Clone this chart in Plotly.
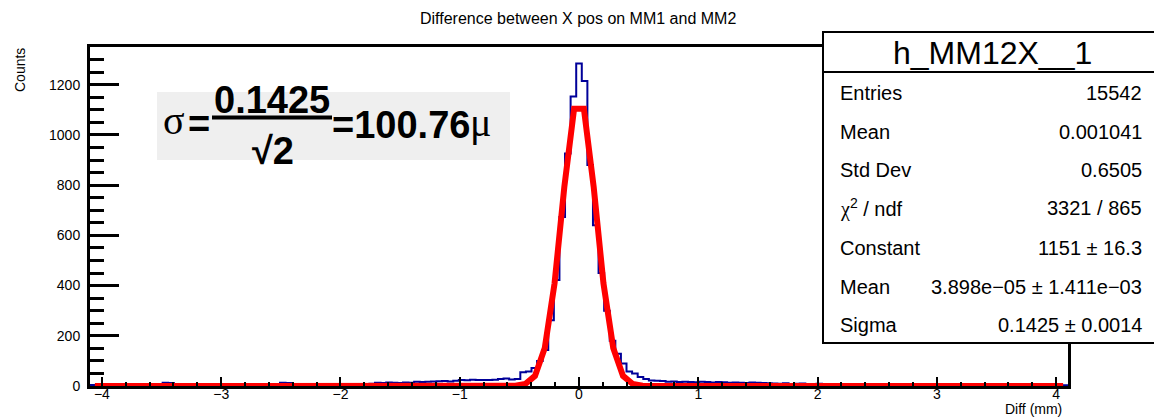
import numpy as np
import plotly.graph_objects as go

# ---------------- data ----------------
title_text = "Difference between X pos on MM1 and MM2"
x_title = "Diff (mm)"
y_title = "Counts"
hist_name = "h_MM12X__1"

x_min, x_max = -4.1, 4.1
n_bins = 175
counts = [
    4, 2, 3, 5, 3, 2, 4, 3, 5, 3, 4,
    6, 8, 13, 12, 5, 4, 3, 5, 4, 6,
    5, 4, 6, 3, 5, 7, 4, 5, 6, 4,
    5, 6, 7, 13, 12, 6, 7, 4, 6, 5,
    6, 5, 7, 5, 6, 7, 6, 7, 8, 9,
    13, 12, 14, 13, 12, 14, 13, 17, 16, 17,
    18, 19, 20, 18, 21, 24, 23, 25, 24, 24,
    24, 25, 28, 30, 26, 28, 55, 58, 72, 100,
    143, 262, 422, 673, 926, 1153, 1284,
    1215, 880, 640, 450, 300, 180, 128, 90, 58, 50, 36,
    28, 22, 21, 20, 17, 18, 16, 17,
    16, 15, 17, 16, 14, 16, 15, 13, 14,
    13, 12, 14, 13, 12, 11,
    10, 9, 11, 8, 9, 10, 8, 7, 9,
    7, 6, 8, 5, 7, 6, 5, 7, 4, 6,
    5, 6, 4, 5, 7, 4, 3, 5, 6, 4,
    5, 3, 4, 6, 3, 5, 4, 2, 4, 3,
    5, 3, 4, 2, 3, 4, 3, 5, 2, 4,
    3, 4, 2, 3,
]

fit_constant = 1151
fit_mean = 3.898e-05
fit_sigma = 0.1425
fit_npx = 100

stats_labels = ["Entries", "Mean", "Std Dev",
                '<span style="font-family:Liberation Serif">χ</span><sup>2</sup> / ndf',
                "Constant", "Mean", "Sigma"]
stats_values = ["15542", "0.001041", "0.6505", "3321 / 865",
                "1151 ± 16.3", "3.898e−05 ± 1.411e−03", "0.1425 ± 0.0014"]

y_range_max = 1350
x_tick_vals = [-4, -3, -2, -1, 0, 1, 2, 3, 4]
y_tick_vals = [0, 200, 400, 600, 800, 1000, 1200]

formula_num = "0.1425"
formula_den = "√2"
formula_res = "=100.76"

# ---------------- layout geometry (pixels) ----------------
W, H = 1154, 417
L, R, T, B = 90, 1068, 47, 386


def px(x):
    return (x - L) / (R - L)


def py(y):
    return (B - y) / (B - T)


SANS = "Liberation Sans"
SERIF = "Liberation Serif"

edges = np.linspace(x_min, x_max, n_bins + 1)
hist_y = list(counts) + [counts[-1]]

dxf = (x_max - x_min) / fit_npx
xf = x_min + (np.arange(fit_npx) + 0.5) * dxf
yf = fit_constant * np.exp(-0.5 * ((xf - fit_mean) / fit_sigma) ** 2)

fig = go.Figure()
fig.add_trace(go.Scatter(x=edges, y=hist_y, mode="lines",
                         line=dict(color="#000099", width=2, shape="hv"),
                         hoverinfo="skip", showlegend=False))
fig.add_trace(go.Scatter(x=xf, y=yf, mode="lines",
                         line=dict(color="#ff0000", width=6),
                         hoverinfo="skip", showlegend=False))

shapes = []
# formula background
shapes.append(dict(type="rect", xref="paper", yref="paper",
                   x0=px(157), x1=px(510), y0=py(160), y1=py(92),
                   fillcolor="#efefef", line=dict(width=0), layer="above"))
# fraction bar
shapes.append(dict(type="line", xref="paper", yref="paper",
                   x0=px(212), x1=px(332), y0=py(117.5), y1=py(117.5),
                   line=dict(color="black", width=4), layer="above"))
# stats box
shapes.append(dict(type="rect", xref="paper", yref="paper",
                   x0=px(823), x1=px(1162), y0=py(343), y1=py(32),
                   fillcolor="white", line=dict(color="black", width=2), layer="above"))
shapes.append(dict(type="line", xref="paper", yref="paper",
                   x0=px(823), x1=px(1162), y0=py(72), y1=py(72),
                   line=dict(color="black", width=2), layer="above"))

ann = []


def add_text(text, x, y, size, xanchor="left", family=SANS, angle=0):
    ann.append(dict(text=text, xref="paper", yref="paper", x=px(x), y=py(y),
                    xanchor=xanchor, yanchor="middle", showarrow=False,
                    textangle=angle,
                    font=dict(family=family, size=size, color="black")))


# title and axis titles
add_text(title_text, 578, 18, 16, xanchor="center")
add_text(y_title, 20, 70, 14, xanchor="center", angle=-90)
add_text(x_title, 1064, 408.5, 14, xanchor="right")

# formula
add_text("σ", 161, 120, 40, xanchor="left", family=SERIF)
add_text("<b>=</b>", 186, 124, 38, xanchor="left")
add_text("<b>" + formula_num + "</b>", 272, 100, 38, xanchor="center")
add_text("<b>" + formula_den + "</b>", 273, 151, 38, xanchor="center")
add_text("<b>" + formula_res + "</b>", 330, 125, 38, xanchor="left")
add_text("μ", 468, 122, 40, xanchor="left", family=SERIF)

# stats box
add_text(hist_name, 992, 53, 32, xanchor="center")
row_y = [93.3, 131.7, 170, 208, 248, 286.7, 325]
for lab, val, yy in zip(stats_labels, stats_values, row_y):
    add_text(lab, 838, yy, 20, xanchor="left")
    add_text(val, 1144, yy, 20, xanchor="right")

fig.update_layout(
    width=W, height=H,
    margin=dict(l=L, r=W - R, t=T, b=H - B, pad=0),
    paper_bgcolor="white", plot_bgcolor="white",
    font=dict(family=SANS, size=14, color="black"),
    shapes=shapes, annotations=ann,
    showlegend=False,
)
fig.update_xaxes(range=[x_min, x_max], tickmode="array", tickvals=x_tick_vals,
                 ticks="inside", ticklen=9, tickwidth=2, tickcolor="black",
                 minor=dict(ticks="inside", dtick=0.2, tick0=0, ticklen=4,
                            tickwidth=2, tickcolor="black", showgrid=False),
                 showgrid=False, zeroline=False, showline=True, linewidth=3,
                 linecolor="black", mirror=True, automargin=False,
                 ticklabelstandoff=-7,
                 tickfont=dict(family=SANS, size=14, color="black"))
fig.update_yaxes(range=[0, y_range_max], tickmode="array", tickvals=y_tick_vals,
                 ticks="inside", ticklen=29, tickwidth=3, tickcolor="black",
                 minor=dict(ticks="inside", dtick=50, tick0=0, ticklen=14,
                            tickwidth=3, tickcolor="black", showgrid=False),
                 showgrid=False, zeroline=False, showline=True, linewidth=3,
                 linecolor="black", mirror=True, ticklabelstandoff=4,
                 automargin=False,
                 tickfont=dict(family=SANS, size=14, color="black"))

fig.write_html(
    "out.html",
    config={"displayModeBar": False},
    post_script="document.body.style.margin='0px';document.body.style.overflow='hidden';",
)
